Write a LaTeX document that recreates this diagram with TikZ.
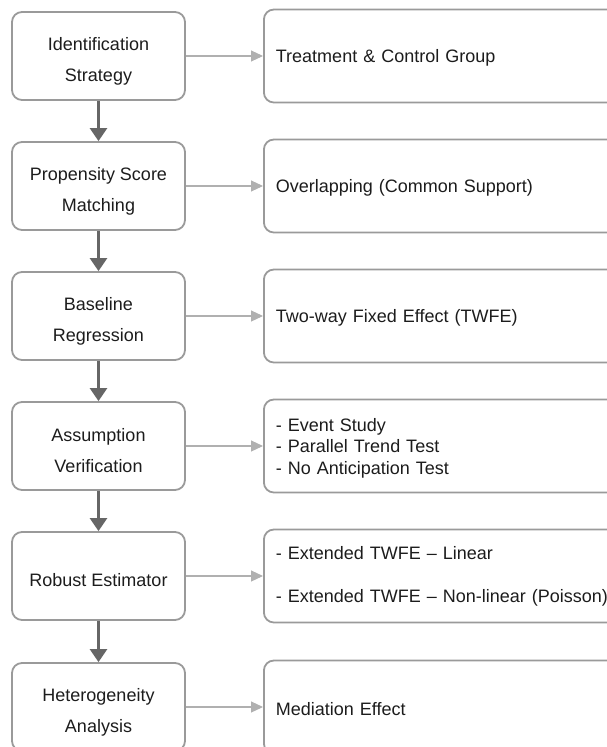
\documentclass[tikz,border=0pt]{standalone}
\usepackage{fontspec}
\setmainfont{Liberation Sans}
\usepackage{tikz}
\usetikzlibrary{positioning,arrows.meta}
\definecolor{cFrame}{HTML}{9A9A9A}
\definecolor{cDown}{HTML}{666666}
\definecolor{cSide}{HTML}{B0B0B0}
\definecolor{cInk}{HTML}{1C1C1C}

\begin{document}
\begin{tikzpicture}[x=1pt,y=-1pt,
  stage/.style={draw=cFrame,line width=1.8pt,rounded corners=10pt,align=center,
                text=cInk,inner sep=0pt,minimum width=173pt,minimum height=88pt,
                font=\fontsize{18}{31}\selectfont},
  detail/.style={draw=cFrame,line width=1.8pt,rounded corners=10pt,align=left,
                 text=cInk,anchor=west,inner xsep=12pt,inner ysep=0pt,
                 text width=356pt,minimum height=93pt,
                 font=\fontsize{18}{21.5}\selectfont},
  drop/.style={execute at begin node={\rule{0pt}{#1}}},
  down/.style={-{Triangle[length=13pt,width=17pt]},line width=2.6pt,cDown},
  side/.style={-{Triangle[length=12pt,width=11pt]},line width=1.1pt,cSide}]

\path[use as bounding box,clip] (0,0) rectangle (607,747);

\node[stage,drop=54pt] (ident) at (98.5,56) {Identification\\Strategy};
\node[stage,drop=54pt] (psm) at (98.5,186) {Propensity Score\\Matching};
\node[stage,drop=54pt] (base) at (98.5,316) {Baseline\\Regression};
\node[stage,drop=54pt] (assum) at (98.5,446) {Assumption\\Verification};
\node[stage,drop=21pt] (robust) at (98.5,576) {Robust Estimator};
\node[stage,drop=54pt] (hetero) at (98.5,707) {Heterogeneity\\Analysis};

\node[detail,drop=17pt] (groups) at (263,56) {Treatment \& Control Group};
\node[detail,drop=17pt] (overlap) at (263,186) {Overlapping (Common Support)};
\node[detail,drop=17pt] (twfe) at (263,316) {Two-way Fixed Effect (TWFE)};
\node[detail,drop=17pt] (tests) at (263,446) {- Event Study\\- Parallel Trend Test\\- No Anticipation Test};
\node[detail] (ext) at (263,576) {- Extended TWFE -- Linear\\[21.5pt]- Extended TWFE -- Non-linear (Poisson)};
\node[detail,drop=17pt] (mediat) at (263,707) {Mediation Effect};

\draw[down] (ident) -- (psm);
\draw[down] (psm) -- (base);
\draw[down] (base) -- (assum);
\draw[down] (assum) -- (robust);
\draw[down] (robust) -- (hetero);

\draw[side] (ident) -- (groups);
\draw[side] (psm) -- (overlap);
\draw[side] (base) -- (twfe);
\draw[side] (assum) -- (tests);
\draw[side] (robust) -- (ext);
\draw[side] (hetero) -- (mediat);
\end{tikzpicture}
\end{document}
